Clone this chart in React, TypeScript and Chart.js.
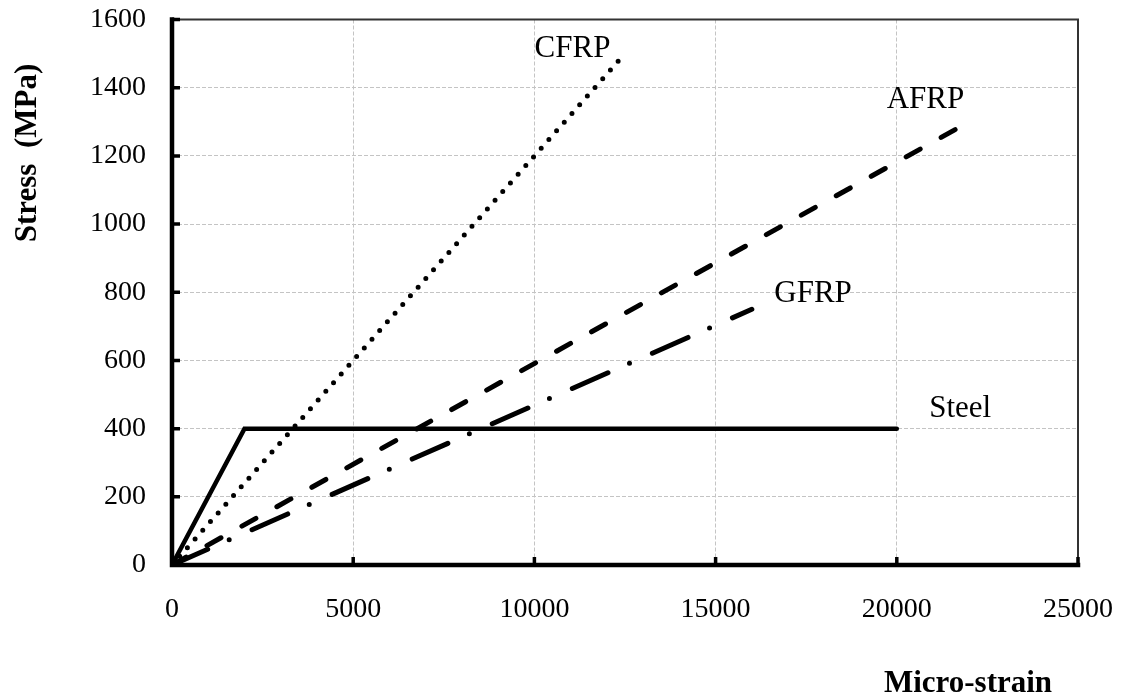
import React, { useEffect, useRef } from "react";
import { Chart, registerables } from "chart.js";

Chart.register(...registerables);

// ---- Data (micro-strain vs stress in MPa) ----
const steelStrain = [0, 2000, 20000];
const steelStress = [0, 400, 400];

const cfrpStrain = [0, 12500];
const cfrpStress = [0, 1500];

const afrpStrain = [0, 22000];
const afrpStress = [0, 1300];

const gfrpStrain = [0, 16000];
const gfrpStress = [0, 750];

const xTicks = [0, 5000, 10000, 15000, 20000, 25000];
const yTicks = [0, 200, 400, 600, 800, 1000, 1200, 1400, 1600];

const seriesNames = ["Steel", "CFRP", "AFRP", "GFRP"];
// label anchor points in data coordinates (strain, stress)
const labelStrain = [21750, 11050, 20790, 17690];
const labelStress = [434, 1490, 1340, 771];

const xTitle = "Micro-strain";
const yTitle = "Stress  (MPa)";

const FONT = "'Liberation Serif', 'Times New Roman', serif";

const toPoints = (xs: number[], ys: number[]) => xs.map((x, i) => ({ x, y: ys[i] }));

const overlayPlugin = {
  id: "overlay",
  afterDraw(chart: any) {
    const { ctx, chartArea, scales } = chart;
    const { left, right, top, bottom } = chartArea;
    const xs = scales.x;
    const ys = scales.y;
    ctx.save();
    // thin top/right frame
    ctx.strokeStyle = "#333333";
    ctx.lineWidth = 2;
    ctx.beginPath();
    ctx.moveTo(left, top);
    ctx.lineTo(right, top);
    ctx.lineTo(right, bottom);
    ctx.stroke();
    // thick left and bottom axes
    ctx.strokeStyle = "#000";
    ctx.lineWidth = 4.5;
    ctx.lineCap = "square";
    ctx.beginPath();
    ctx.moveTo(left, top);
    ctx.lineTo(left, bottom);
    ctx.lineTo(right, bottom);
    ctx.stroke();
    // inward tick marks
    ctx.lineWidth = 3.5;
    ctx.lineCap = "butt";
    ctx.beginPath();
    yTicks.forEach((v) => {
      const py = ys.getPixelForValue(v);
      ctx.moveTo(left, py);
      ctx.lineTo(left + 8, py);
    });
    xTicks.forEach((v) => {
      const px = xs.getPixelForValue(v);
      ctx.moveTo(px, bottom);
      ctx.lineTo(px, bottom - 8);
    });
    ctx.stroke();
    // series labels
    ctx.fillStyle = "#000";
    ctx.font = `31px ${FONT}`;
    ctx.textAlign = "center";
    ctx.textBaseline = "alphabetic";
    seriesNames.forEach((name, i) => {
      ctx.fillText(name, xs.getPixelForValue(labelStrain[i]), ys.getPixelForValue(labelStress[i]));
    });
    // axis titles
    ctx.font = `bold 31px ${FONT}`;
    ctx.fillText(xTitle, 968, 692);
    ctx.save();
    ctx.translate(28, 153);
    ctx.rotate(-Math.PI / 2);
    ctx.textBaseline = "middle";
    ctx.fillText(yTitle, 0, 0);
    ctx.restore();
    ctx.restore();
  },
};

const zeroPad = (axis: any) => {
  axis.paddingTop = 0;
  axis.paddingBottom = 0;
  axis.paddingLeft = 0;
  axis.paddingRight = 0;
};

export default function App() {
  const ref = useRef<HTMLCanvasElement | null>(null);
  useEffect(() => {
    document.body.style.margin = "0";
    const canvas = ref.current;
    if (!canvas) return;
    const chart = new Chart(canvas, {
      type: "scatter",
      data: {
        datasets: [
          {
            label: seriesNames[0],
            data: toPoints(steelStrain, steelStress),
            showLine: true,
            borderColor: "#000",
            borderWidth: 4.5,
            borderCapStyle: "round",
            borderJoinStyle: "miter",
            pointRadius: 0,
          },
          {
            label: seriesNames[1],
            data: toPoints(cfrpStrain, cfrpStress),
            showLine: true,
            borderColor: "#000",
            borderWidth: 5,
            borderDash: [0, 11.6],
            borderCapStyle: "round",
            pointRadius: 0,
          },
          {
            label: seriesNames[2],
            data: toPoints(afrpStrain, afrpStress),
            showLine: true,
            borderColor: "#000",
            borderWidth: 5,
            borderDash: [16, 24],
            borderCapStyle: "round",
            pointRadius: 0,
          },
          {
            label: seriesNames[3],
            data: toPoints(gfrpStrain, gfrpStress),
            showLine: true,
            borderColor: "#000",
            borderWidth: 5,
            borderDash: [39, 23.5, 0, 25],
            borderCapStyle: "round",
            pointRadius: 0,
          },
        ],
      },
      options: {
        responsive: false,
        animation: false,
        devicePixelRatio: 1,
        layout: { padding: { top: 19.5, right: 46, left: 0, bottom: 0 } },
        plugins: {
          legend: { display: false },
          tooltip: { enabled: false },
        },
        scales: {
          x: {
            type: "linear",
            min: 0,
            max: 25000,
            afterBuildTicks: (axis: any) => {
              axis.ticks = xTicks.map((v) => ({ value: v }));
            },
            afterFit: (axis: any) => {
              axis.height = 131;
              zeroPad(axis);
            },
            ticks: {
              color: "#000",
              font: { family: FONT, size: 28 },
              padding: 28,
              maxRotation: 0,
              callback: (v: any) => String(v),
            },
            grid: { color: "#c4c4c4", lineWidth: 1, drawTicks: false },
            border: { display: false, dash: [4, 2] },
          },
          y: {
            type: "linear",
            min: 0,
            max: 1600,
            afterBuildTicks: (axis: any) => {
              axis.ticks = yTicks.map((v) => ({ value: v }));
            },
            afterFit: (axis: any) => {
              axis.width = 172;
              zeroPad(axis);
            },
            ticks: {
              color: "#000",
              font: { family: FONT, size: 28 },
              padding: 26,
              callback: (v: any) => String(v),
            },
            grid: { color: "#c4c4c4", lineWidth: 1, drawTicks: false },
            border: { display: false, dash: [4, 2] },
          },
        },
      },
      plugins: [overlayPlugin],
    } as any);
    return () => chart.destroy();
  }, []);
  return (
    <div style={{ position: "absolute", left: 0, top: 0, width: 1124, height: 696, background: "#fff" }}>
      <canvas ref={ref} width={1124} height={696} />
    </div>
  );
}
